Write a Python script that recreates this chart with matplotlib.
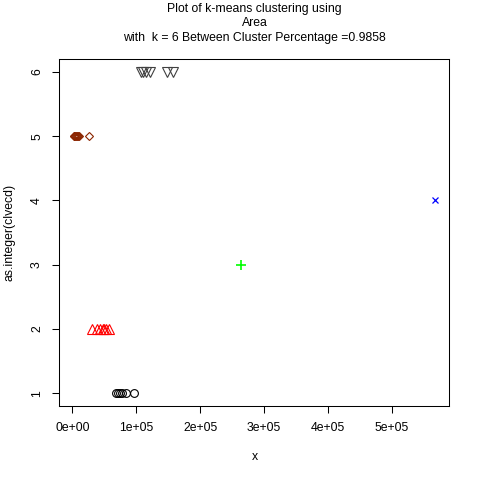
import numpy as np
import matplotlib
matplotlib.use('Agg')
import matplotlib.pyplot as plt

plt.rcParams['font.family'] = ['Liberation Sans', 'DejaVu Sans']

# cluster members (x value) for each cluster id
cluster1_x = [6.8e4, 7.1e4, 7.4e4, 7.8e4, 8.3e4, 9.7e4]
cluster2_x = [3.1e4, 3.8e4, 4.3e4, 4.7e4, 5.0e4, 5.3e4, 5.7e4]
cluster3_x = [2.63e5]
cluster4_x = [5.67e5]
cluster5_x = [2.0e3, 3.0e3, 4.5e3, 6.0e3, 7.5e3, 9.0e3, 1.05e4, 2.6e4]
cluster6_x = [1.066e5, 1.105e5, 1.15e5, 1.206e5, 1.472e5, 1.566e5]

cluster_ids = [1, 2, 3, 4, 5, 6]
cluster_colors = ['black', '#FF0000', '#00FF00', '#0000FF', '#8B2500', '#404040']
cluster_markers = ['o', '^', '+', 'x', 'D', 'v']
marker_sizes = [5.6, 6.5, 6.8, 5.0, 4.2, 6.5]
edge_widths = [0.8, 0.8, 1.2, 0.9, 0.8, 0.8]

xticks = [0, 1e5, 2e5, 3e5, 4e5, 5e5]
xtick_labels = ['0e+00', '1e+05', '2e+05', '3e+05', '4e+05', '5e+05']
yticks = [1, 2, 3, 4, 5, 6]

fs = 8.8
lw = 0.75

fig = plt.figure(figsize=(4.8, 4.8), dpi=100)
ax = fig.add_axes([59.3 / 480, 1 - 406 / 480, 390 / 480, 346.8 / 480])

all_x = [cluster1_x, cluster2_x, cluster3_x, cluster4_x, cluster5_x, cluster6_x]
for cid, xs, col, mk, ms, ew in zip(cluster_ids, all_x, cluster_colors, cluster_markers,
                                    marker_sizes, edge_widths):
    ax.plot(xs, [cid] * len(xs), linestyle='none', marker=mk, markersize=ms, color=col,
            markerfacecolor='none', markeredgecolor=col, markeredgewidth=ew)

xmin = min(min(v) for v in all_x)
xmax = max(max(v) for v in all_x)
span = xmax - xmin
ax.set_xlim(xmin - 0.04 * span, xmax + 0.04 * span)
ax.set_ylim(0.8, 6.2)

ax.set_xticks(xticks)
ax.set_xticklabels(xtick_labels, fontsize=fs)
ax.set_yticks(yticks)
ax.set_yticklabels([str(v) for v in yticks], fontsize=fs, rotation=90, va='center')
ax.tick_params(direction='out', length=5.2, width=lw, pad=6.5)

for s in ax.spines.values():
    s.set_linewidth(lw)

fig.text(254.5 / 480, 1 - 457 / 480, 'x', ha='center', va='center', fontsize=fs)
fig.text(10 / 480, 1 - 232.5 / 480, 'as.integer(clvecd)', ha='center', va='center',
         rotation=90, fontsize=fs)

fig.text(254.5 / 480, 1 - 9 / 480, 'Plot of k-means clustering using', ha='center', va='center', fontsize=fs)
fig.text(254.5 / 480, 1 - 23.5 / 480, 'Area', ha='center', va='center', fontsize=fs)
fig.text(254.5 / 480, 1 - 38 / 480, 'with  k = 6 Between Cluster Percentage =0.9858',
         ha='center', va='center', fontsize=fs)

fig.savefig('out.png', dpi=100)
